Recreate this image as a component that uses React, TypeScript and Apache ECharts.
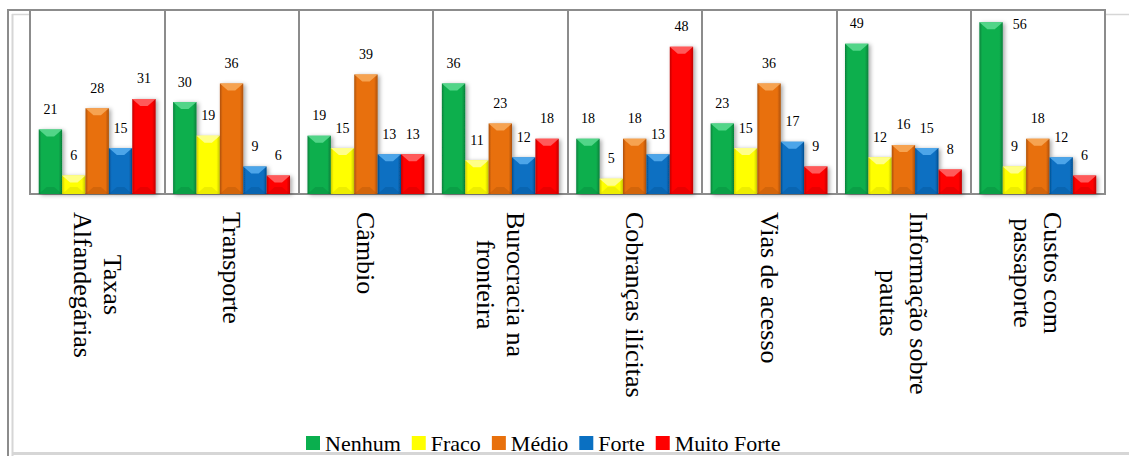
import React, { useEffect, useRef } from "react";
import * as echarts from "echarts";

// Categories (line breaks are the wrapped axis labels)
const categories = [
  "Taxas\nAlfandegárias",
  "Transporte",
  "Câmbio",
  "Burocracia na\nfronteira",
  "Cobranças ilícitas",
  "Vias de acesso",
  "Informação sobre\npautas",
  "Custos com\npassaporte",
];

const levels = ["Nenhum", "Fraco", "Médio", "Forte", "Muito Forte"];

const nenhum = [21, 30, 19, 36, 18, 23, 49, 56];
const fraco = [6, 19, 15, 11, 5, 15, 12, 9];
const medio = [28, 36, 39, 23, 18, 36, 16, 18];
const forte = [15, 9, 13, 12, 13, 17, 15, 12];
const muitoForte = [31, 6, 13, 18, 48, 9, 8, 6];

const seriesValues = [nenhum, fraco, medio, forte, muitoForte];

const palette = [
  { base: "#0aaf4e", light: "#5fdc93", dark: "#06803a" },
  { base: "#ffff00", light: "#ffffa0", dark: "#cccc00" },
  { base: "#e8700c", light: "#f8ab5e", dark: "#ad5006" },
  { base: "#0a70c2", light: "#58aef0", dark: "#044f91" },
  { base: "#ff0000", light: "#ff6a6a", dark: "#c00000" },
];

const SERIF = "Liberation Serif, Times New Roman, serif";
const GROUP_RATIO = 0.87;

function makeRenderItem(idx: number) {
  return (params: any, api: any) => {
    const cat = api.value(0);
    const val = api.value(1);
    const top = api.coord([cat, val]);
    const base = api.coord([cat, 0]);
    const band = api.size([1, 0])[0];
    const groupW = band * GROUP_RATIO;
    const w = groupW / levels.length;
    const x = top[0] - groupW / 2 + idx * w;
    const yTop = top[1];
    const yBase = base[1];
    const h = yBase - yTop;
    const c = palette[idx];
    const bx = Math.min(8, w / 2 - 2);
    const by = Math.min(7, h / 2);
    const grid = params.coordSys;

    // value label above the bar, or beside it when it would leave the plot
    let labelX = x + w / 2;
    let labelY = yTop - 20;
    let align = "center";
    if (labelY - 8 < grid.y) {
      labelX = x + w + 10;
      labelY = yTop + 2;
      align = "left";
    }

    return {
      type: "group",
      children: [
        {
          type: "rect",
          shape: { x, y: yTop, width: w, height: h },
          style: {
            fill: new echarts.graphic.LinearGradient(0, 0, 1, 0, [
              { offset: 0, color: c.dark },
              { offset: 0.12, color: c.base },
              { offset: 0.85, color: c.base },
              { offset: 1, color: c.dark },
            ]),
            shadowBlur: 4,
            shadowOffsetX: 2,
            shadowOffsetY: 1,
            shadowColor: "rgba(0,0,0,0.35)",
          },
        },
        {
          // bevelled top face
          type: "polygon",
          shape: {
            points: [
              [x, yTop],
              [x + w, yTop],
              [x + w - bx, yTop + by],
              [x + bx, yTop + by],
            ],
          },
          style: { fill: c.light, opacity: 0.85 },
        },
        {
          // darker bottom face
          type: "polygon",
          shape: {
            points: [
              [x, yBase],
              [x + w, yBase],
              [x + w - bx, yBase - by],
              [x + bx, yBase - by],
            ],
          },
          style: { fill: c.dark, opacity: 0.35 },
        },
        {
          type: "text",
          x: labelX,
          y: labelY,
          style: {
            text: String(val),
            fontFamily: SERIF,
            fontSize: 14,
            fill: "#000",
            align,
            verticalAlign: "middle",
          },
        },
      ],
    };
  };
}

export default function App() {
  const ref = useRef<HTMLDivElement>(null);

  useEffect(() => {
    if (!ref.current) return;
    const chart = echarts.init(ref.current, undefined, { renderer: "svg" });

    const series = levels.map((name, idx) => ({
      name,
      type: "custom",
      renderItem: makeRenderItem(idx),
      encode: { x: 0, y: 1 },
      data: seriesValues[idx].map((v, i) => [i, v]),
      itemStyle: { color: palette[idx].base },
      clip: false,
    }));

    const frame = "#8c8c8c";
    const soft = "#d6d6d6";

    chart.setOption({
      animation: false,
      backgroundColor: "#ffffff",
      textStyle: { fontFamily: SERIF },
      grid: {
        left: 30,
        right: 24,
        top: 10,
        bottom: 262,
        show: true,
        borderColor: frame,
        borderWidth: 2,
      },
      xAxis: {
        type: "category",
        data: categories,
        axisTick: { show: false },
        axisLine: { lineStyle: { color: frame, width: 2 } },
        splitLine: { show: true, interval: 0, lineStyle: { color: frame, width: 2 } },
        axisLabel: {
          interval: 0,
          rotate: -90,
          margin: 18,
          color: "#000",
          fontFamily: SERIF,
          fontSize: 26,
          lineHeight: 30,
          formatter: (v: string) =>
            v
              .split("\n")
              .map((s) => `{c|${s}}`)
              .join("\n"),
          rich: {
            c: {
              align: "center",
              fontFamily: SERIF,
              fontSize: 26,
              lineHeight: 30,
              color: "#000",
            },
          },
        },
      },
      yAxis: {
        type: "value",
        min: 0,
        max: 60,
        show: false,
      },
      legend: {
        data: levels,
        left: 306,
        top: 432,
        padding: 0,
        icon: "rect",
        itemWidth: 14,
        itemHeight: 14,
        itemGap: 11,
        textStyle: {
          fontFamily: SERIF,
          fontSize: 22,
          lineHeight: 22,
          color: "#000",
        },
      },
      graphic: [
        { type: "line", shape: { x1: 8, y1: 10, x2: 30, y2: 10 }, style: { stroke: frame, lineWidth: 2 } },
        { type: "line", shape: { x1: 8, y1: 9, x2: 8, y2: 456 }, style: { stroke: frame, lineWidth: 2 } },
        { type: "line", shape: { x1: 12.5, y1: 14, x2: 12.5, y2: 456 }, style: { stroke: soft, lineWidth: 2 } },
        { type: "line", shape: { x1: 12, y1: 14.5, x2: 29, y2: 14.5 }, style: { stroke: soft, lineWidth: 1.5 } },
        { type: "line", shape: { x1: 1106, y1: 14.5, x2: 1129, y2: 14.5 }, style: { stroke: soft, lineWidth: 1.5 } },
        { type: "line", shape: { x1: 12, y1: 453.5, x2: 1129, y2: 453.5 }, style: { stroke: soft, lineWidth: 3 } },
      ],
      series,
    });

    return () => chart.dispose();
  }, []);

  return (
    <div
      ref={ref}
      style={{ position: "fixed", left: 0, top: 0, width: 1129, height: 456 }}
    />
  );
}
